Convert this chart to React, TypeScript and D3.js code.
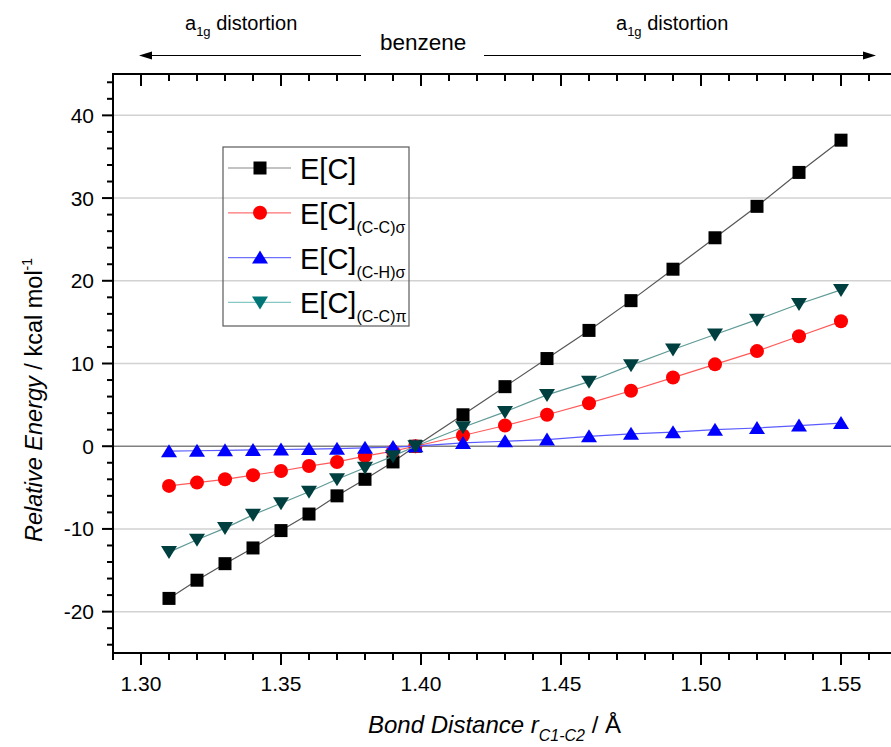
import React from 'react';
import * as d3 from 'd3';

// bond distance r(C1-C2) in Angstrom
const distances = [1.31, 1.32, 1.33, 1.34, 1.35, 1.36, 1.37, 1.38, 1.39, 1.398,
  1.415, 1.43, 1.445, 1.46, 1.475, 1.49, 1.505, 1.52, 1.535, 1.55];

// relative energies, kcal/mol
const eC = [-18.4, -16.2, -14.2, -12.3, -10.2, -8.2, -6.0, -4.0, -1.9, 0,
  3.8, 7.2, 10.6, 14.0, 17.6, 21.4, 25.2, 29.0, 33.1, 37.0];
const eCCsigma = [-4.8, -4.4, -4.0, -3.5, -3.0, -2.4, -1.9, -1.2, -0.6, 0,
  1.3, 2.5, 3.8, 5.2, 6.7, 8.3, 9.9, 11.5, 13.3, 15.1];
const eCHsigma = [-0.6, -0.55, -0.5, -0.45, -0.4, -0.35, -0.3, -0.2, -0.1, 0,
  0.4, 0.6, 0.8, 1.2, 1.5, 1.7, 2.0, 2.2, 2.5, 2.8];
const eCCpi = [-12.8, -11.3, -9.9, -8.3, -6.9, -5.5, -4.0, -2.6, -1.2, 0,
  2.3, 4.15, 6.2, 7.8, 9.8, 11.7, 13.5, 15.3, 17.2, 18.9];

const xTickLabels = ['1.30', '1.35', '1.40', '1.45', '1.50', '1.55'];
const yTickLabels = ['-20', '-10', '0', '10', '20', '30', '40'];

const series = [
  { name: 'E[C]', sub: '', values: eC, shape: 'square', fill: '#000000', legendFill: '#000000', line: '#555555', legendLine: '#888888' },
  { name: 'E[C]', sub: '(C-C)σ', values: eCCsigma, shape: 'circle', fill: '#ff0000', legendFill: '#ff0000', line: '#ff5a5a', legendLine: '#ff7070' },
  { name: 'E[C]', sub: '(C-H)σ', values: eCHsigma, shape: 'up', fill: '#0000ff', legendFill: '#0000ff', line: '#5a5aff', legendLine: '#7070ff' },
  { name: 'E[C]', sub: '(C-C)π', values: eCCpi, shape: 'down', fill: '#003f3f', legendFill: '#007575', line: '#5f9a96', legendLine: '#86c8c4' },
];

const W = 891;
const H = 747;
const FONT = '"Liberation Sans", Arial, sans-serif';

function Marker({ shape, x, y, fill }: { shape: string; x: number; y: number; fill: string }) {
  if (shape === 'square') return <rect x={x - 6.5} y={y - 6.5} width={13} height={13} fill={fill} />;
  if (shape === 'circle') return <circle cx={x} cy={y} r={7} fill={fill} />;
  if (shape === 'up') return <path d={`M${x},${y - 7}L${x + 8},${y + 6}L${x - 8},${y + 6}Z`} fill={fill} />;
  return <path d={`M${x},${y + 7}L${x + 8},${y - 6}L${x - 8},${y - 6}Z`} fill={fill} />;
}

export default function App() {
  const x = d3.scaleLinear().domain([1.29, 1.57]).range([113, 897]);
  const y = d3.scaleLinear().domain([-25, 45]).range([653, 74]);

  const xMinor = d3.range(129, 157).map((v) => v / 100);
  const yMinor = d3.range(-24, 45, 2);

  const line = d3.line<number>()
    .x((_, i) => x(distances[i]))
    .y((v) => y(v));

  return (
    <div>
      <style>{`body{margin:0}`}</style>
      <svg width={W} height={H} style={{ display: 'block', background: '#fff' }} fontFamily={FONT}>
        {/* grid */}
        {yTickLabels.map((t) => (
          <line key={t} x1={113} x2={W} y1={y(+t)} y2={y(+t)}
            stroke={+t === 0 ? '#808080' : '#d2d2d2'} strokeWidth={1.5} />
        ))}

        {/* series */}
        {series.map((s, si) => (
          <g key={si}>
            <path d={line(s.values) ?? ''} fill="none" stroke={s.line} strokeWidth={1.2} />
            {s.values.map((v, i) => (
              <Marker key={i} shape={s.shape} x={x(distances[i])} y={y(v)} fill={s.fill} />
            ))}
          </g>
        ))}

        {/* legend */}
        <rect x={223} y={147} width={186} height={179} fill="none" stroke="#5a5a5a" strokeWidth={1.2} />
        {series.map((s, i) => {
          const cy = 168 + i * 44.8;
          return (
            <g key={i}>
              <line x1={228} x2={291} y1={cy} y2={cy} stroke={s.legendLine} strokeWidth={1.2} />
              <Marker shape={s.shape} x={260} y={cy} fill={s.legendFill} />
              <text x={300} y={cy + 11} fontSize={29}>
                {s.name}
                {s.sub && <tspan fontSize={16} dy={9}>{s.sub}</tspan>}
              </text>
            </g>
          );
        })}

        {/* axes frame */}
        <line x1={113} x2={113} y1={73} y2={654} stroke="#000" strokeWidth={2} />
        <line x1={112} x2={W} y1={653} y2={653} stroke="#000" strokeWidth={2} />
        <line x1={112} x2={W} y1={74} y2={74} stroke="#000" strokeWidth={2} />

        {/* x ticks bottom (outward) and top (inward) */}
        {xMinor.map((v) => {
          const major = Math.round(v * 100) % 5 === 0;
          const len = major ? 12 : 7;
          return (
            <g key={v}>
              <line x1={x(v)} x2={x(v)} y1={653} y2={653 + len} stroke="#000" strokeWidth={2} />
              <line x1={x(v)} x2={x(v)} y1={74} y2={74 + len} stroke="#000" strokeWidth={2} />
            </g>
          );
        })}
        {xTickLabels.map((t) => (
          <text key={t} x={x(+t)} y={691} fontSize={21} textAnchor="middle">{t}</text>
        ))}

        {/* y ticks */}
        {yMinor.map((v) => {
          const major = v % 10 === 0;
          return (
            <line key={v} x1={113 - (major ? 11 : 6)} x2={113} y1={y(v)} y2={y(v)} stroke="#000" strokeWidth={2} />
          );
        })}
        {yTickLabels.map((t) => (
          <text key={t} x={94} y={y(+t)} dy="0.36em" fontSize={21} textAnchor="end">{t}</text>
        ))}

        {/* axis titles */}
        <text x={368} y={733} fontSize={24}>
          <tspan fontStyle="italic">Bond Distance r</tspan>
          <tspan fontStyle="italic" fontSize={16} dy={8}>C1-C2</tspan>
          <tspan dy={-8}> / Å</tspan>
        </text>
        <text transform="translate(42,400) rotate(-90)" fontSize={23.5} textAnchor="middle">
          <tspan fontStyle="italic">Relative Energy</tspan>
          <tspan> / kcal mol</tspan>
          <tspan fontSize={14} dy={-10}>-1</tspan>
        </text>

        {/* top annotations */}
        <text x={185} y={30} fontSize={20}>
          a<tspan fontSize={13} dy={6}>1g</tspan><tspan dy={-6}> distortion</tspan>
        </text>
        <text x={616} y={30} fontSize={20}>
          a<tspan fontSize={13} dy={6}>1g</tspan><tspan dy={-6}> distortion</tspan>
        </text>
        <text x={380} y={50} fontSize={22.5}>benzene</text>
        <line x1={150} x2={361} y1={55.5} y2={55.5} stroke="#000" strokeWidth={1.2} />
        <path d="M139,55.5L152,51.5L152,59.5Z" fill="#000" />
        <line x1={484} x2={865} y1={55.5} y2={55.5} stroke="#000" strokeWidth={1.2} />
        <path d="M876,55.5L863,51.5L863,59.5Z" fill="#000" />
      </svg>
    </div>
  );
}
